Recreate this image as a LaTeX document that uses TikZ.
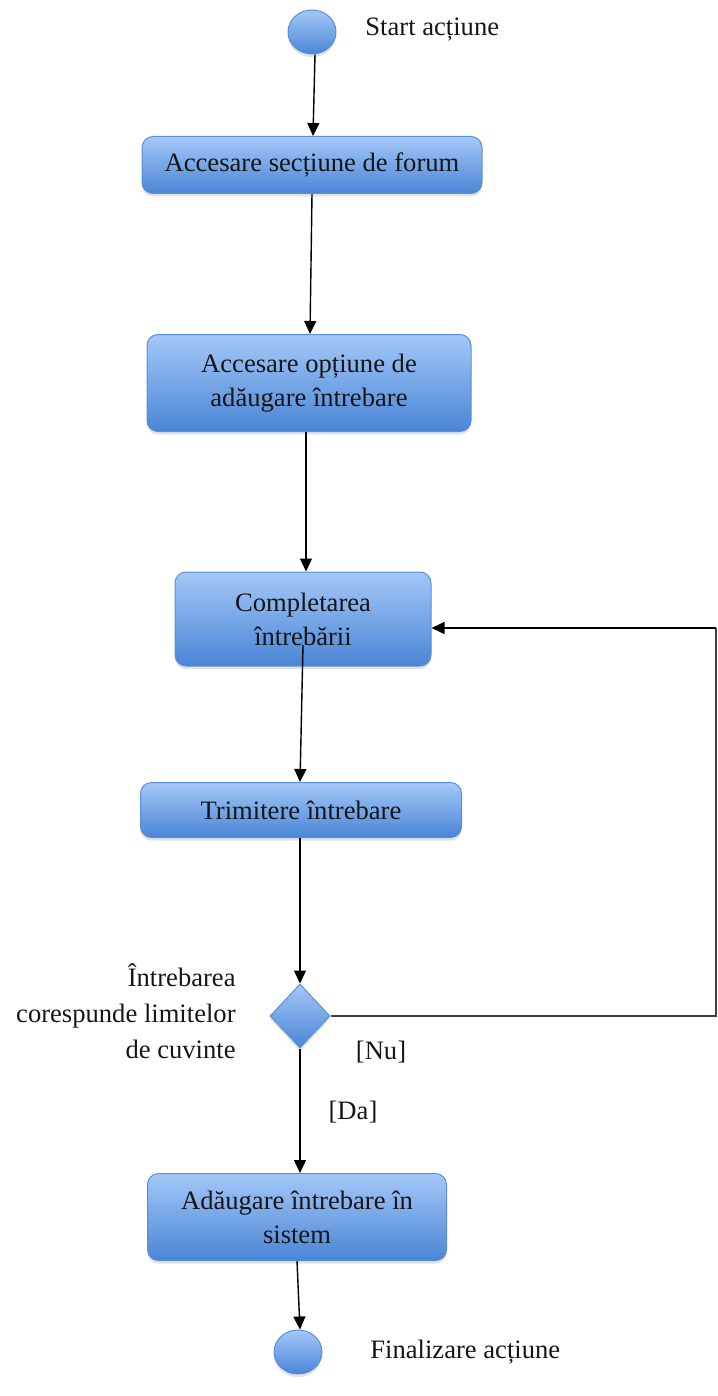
\documentclass[tikz,border=0pt]{standalone}
\usepackage{fontspec}
\setmainfont{Liberation Serif}
\usetikzlibrary{arrows.meta,shapes.geometric,shadows,calc}

\definecolor{boxtop}{HTML}{A4C8F8}
\definecolor{boxbot}{HTML}{4A85D6}
\definecolor{boxline}{HTML}{5A8ED6}
\definecolor{ink}{HTML}{161616}

\tikzset{
  blueshade/.style={top color=boxtop, bottom color=boxbot, draw=boxline, line width=0.5pt,
    drop shadow={opacity=0.22, shadow xshift=0pt, shadow yshift=-1.6pt}},
  actbox/.style={blueshade, rounded corners=5.5pt, align=center, text=ink,
    font=\fontsize{13.3}{17}\selectfont, inner sep=2pt},
  endpoint/.style={blueshade, ellipse, inner sep=0pt, minimum width=24pt, minimum height=22pt},
  decision/.style={blueshade, diamond, inner sep=0pt, minimum width=30pt, minimum height=32pt},
  lbl/.style={text=ink, font=\fontsize{13.3}{18}\selectfont, inner sep=0pt},
  arr/.style={draw=black, line width=0.7pt, -{Triangle[length=6.5pt,width=6pt]}},
  loopline/.style={draw=black!75, line width=0.7pt}
}

\begin{document}
\begin{tikzpicture}[x=0.5pt,y=-0.5pt]
  \useasboundingbox (0,0) rectangle (717,1396);

  % activity nodes
  \node[endpoint] (start) at (312,32) {};
  \node[lbl, anchor=west] (startlbl) at (365,30) {Start acțiune};

  \node[actbox, minimum width=170pt, minimum height=28.5pt] (forum) at (312,165)
    {Accesare secțiune de forum};
  \node[actbox, minimum width=162pt, minimum height=48.5pt] (optiune) at (309,383)
    {Accesare opțiune de\\adăugare întrebare};
  \node[actbox, minimum width=128pt, minimum height=47pt] (complet) at (303,619)
    {Completarea\\întrebării};
  \node[actbox, minimum width=160.5pt, minimum height=27.5pt] (trimit) at (301,810)
    {Trimitere întrebare};
  \node[decision] (dec) at (300,1016) {};
  \node[lbl, anchor=east, align=right] (declbl) at (236,1011)
    {Întrebarea\\corespunde limitelor\\de cuvinte};
  \node[actbox, minimum width=149.5pt, minimum height=43.5pt] (adaug) at (297,1217)
    {Adăugare întrebare în\\sistem};
  \node[endpoint] (final) at (298,1352) {};
  \node[lbl, anchor=west] (finallbl) at (370,1352) {Finalizare acțiune};

  \node[lbl] (nu) at (381,1052) {[Nu]};
  \node[lbl] (da) at (353,1112) {[Da]};

  % flow
  \draw[arr] ($(start.south)+(3,0)$) -- ($(forum.north)+(1,0)$);
  \draw[arr] (forum.south) -- ($(optiune.north)+(1,0)$);
  \draw[arr] ($(optiune.south)+(-3,0)$) -- ($(complet.north)+(3,0)$);
  \draw[arr] ($(complet.center)+(0,26)$) -- ($(trimit.north)+(-1,0)$);
  \draw[arr] ($(trimit.south)+(-1,0)$) -- (dec.north);
  \draw[arr] (dec.south) -- ($(adaug.north)+(3,0)$);
  \draw[arr] (adaug.south) -- ($(final.north)+(2,0)$);

  % loop back when the limits are not met
  \coordinate (loopbot) at (716,1016);
  \coordinate (looptop) at (716,628);
  \draw[loopline] (dec.east) -- (loopbot) -- (looptop);
  \draw[arr] (looptop) -- (complet.east |- looptop);
\end{tikzpicture}
\end{document}
